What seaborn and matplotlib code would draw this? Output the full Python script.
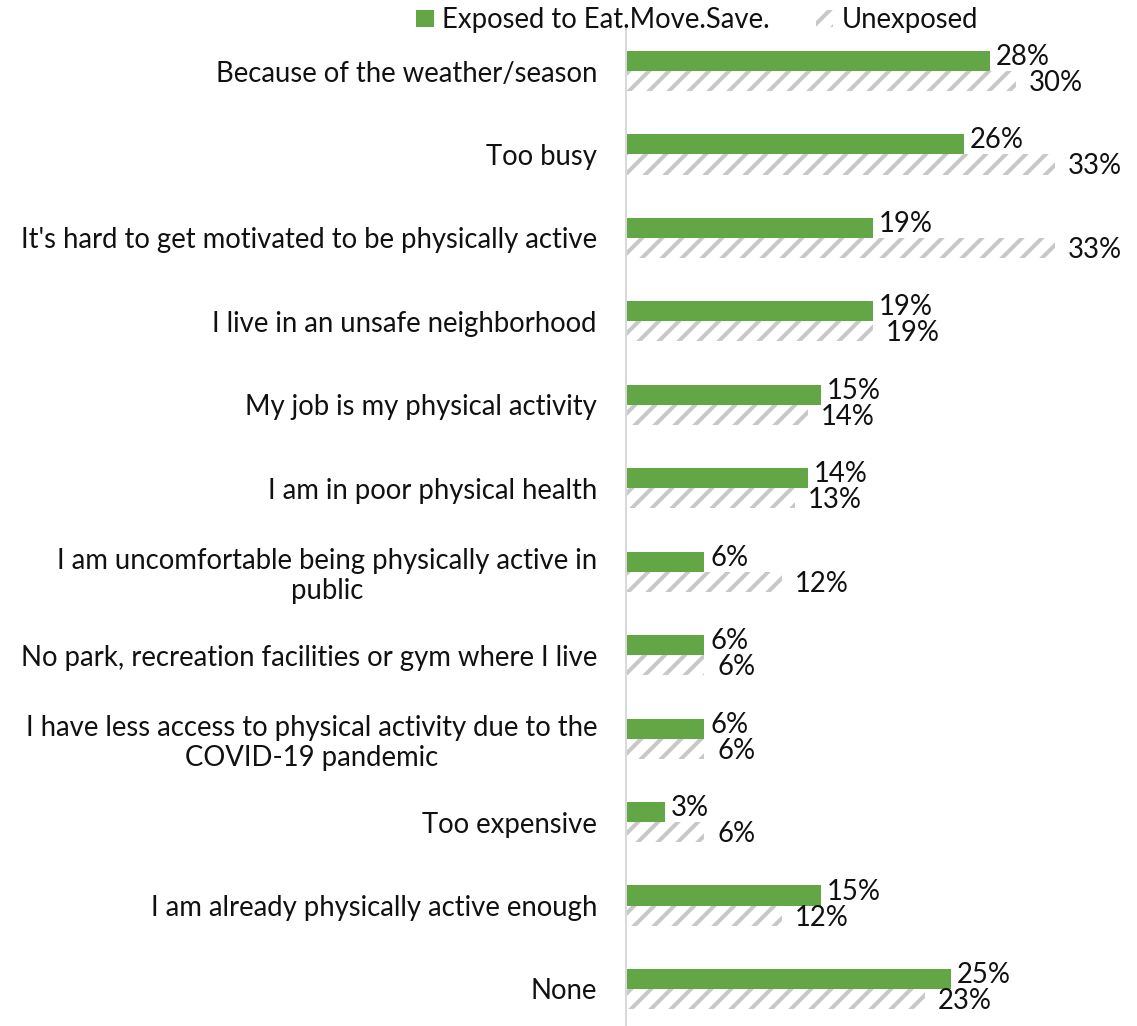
import matplotlib
matplotlib.use("Agg")
import matplotlib.pyplot as plt
import seaborn as sns
import pandas as pd
from matplotlib.patches import Patch

categories = [
    "Because of the weather/season",
    "Too busy",
    "It's hard to get motivated to be physically active",
    "I live in an unsafe neighborhood",
    "My job is my physical activity",
    "I am in poor physical health",
    "I am uncomfortable being physically active in\npublic",
    "No park, recreation facilities or gym where I live",
    "I have less access to physical activity due to the\nCOVID-19 pandemic",
    "Too expensive",
    "I am already physically active enough",
    "None",
]
exposed = [28, 26, 19, 19, 15, 14, 6, 6, 6, 3, 15, 25]
unexposed = [30, 33, 33, 19, 14, 13, 12, 6, 6, 6, 12, 23]
groups = ["Exposed to Eat.Move.Save.", "Unexposed"]

df = pd.DataFrame({
    "category": categories * 2,
    "value": exposed + unexposed,
    "group": [groups[0]] * len(categories) + [groups[1]] * len(categories),
})

# Render at 60 dpi so the hatch spacing comes out at about 10 px;
# sizes below are written in pixels and converted to points.
DPI = 60
W, H = 1137, 1026
PT = 72 / DPI  # points per pixel

sns.set_theme(style="white")
plt.rcParams["font.family"] = ["Lato", "DejaVu Sans"]
plt.rcParams["hatch.linewidth"] = 4.0 * PT

green = "#63a646"
gray = "#c8c8c8"
text_color = "#111111"
fs = 27.5 * PT  # font size

fig = plt.figure(figsize=(W / DPI, H / DPI), dpi=DPI)
top_px, bot_px = 29.3, 1030.7
ax = fig.add_axes([626 / W, (H - bot_px) / H, 1 - 626 / W, (bot_px - top_px) / H])

sns.barplot(data=df, y="category", x="value", hue="group", order=categories,
            hue_order=groups, palette=[green, "white"], width=0.48,
            orient="h", ax=ax, legend=False, saturation=1)

bars_exp = ax.containers[0]
bars_unexp = ax.containers[1]
for p in bars_unexp:
    p.set_hatch("/")
    p.set_edgecolor(gray)
    p.set_linewidth(0)
for p in bars_exp:
    p.set_linewidth(0)

for p, v in zip(bars_exp, exposed):
    ax.annotate(f"{v}%", (p.get_width(), p.get_y() + p.get_height() / 2),
                xytext=(6, 4), textcoords="offset pixels",
                ha="left", va="center", fontsize=fs, color=text_color)
for p, v in zip(bars_unexp, unexposed):
    ax.annotate(f"{v}%", (p.get_width(), p.get_y() + p.get_height() / 2),
                xytext=(13, -2), textcoords="offset pixels",
                ha="left", va="center", fontsize=fs, color=text_color)

ax.set_xlim(0, 39.3)
ax.set_ylim(11.5, -0.5)
ax.set_xlabel("")
ax.set_ylabel("")
ax.set_xticks([])
ax.tick_params(axis="y", length=0, pad=29 * PT, labelsize=fs)
for lbl in ax.get_yticklabels():
    lbl.set_multialignment("center")
    lbl.set_color(text_color)
for s in ["top", "right", "bottom"]:
    ax.spines[s].set_visible(False)
ax.spines["left"].set_color("#d9d9d9")
ax.spines["left"].set_linewidth(2 * PT)

handles = [
    Patch(facecolor=green, edgecolor="none", label=groups[0]),
    Patch(facecolor="white", edgecolor=gray, hatch="/", linewidth=0, label=groups[1]),
]
fig.legend(handles=handles, loc="center", bbox_to_anchor=(697 / W, 1 - 20 / H),
           ncol=2, frameon=False, fontsize=fs, handlelength=0.65, handleheight=0.58,
           handletextpad=0.29, columnspacing=1.67, labelcolor=text_color)

fig.savefig("out.png", dpi=DPI)
